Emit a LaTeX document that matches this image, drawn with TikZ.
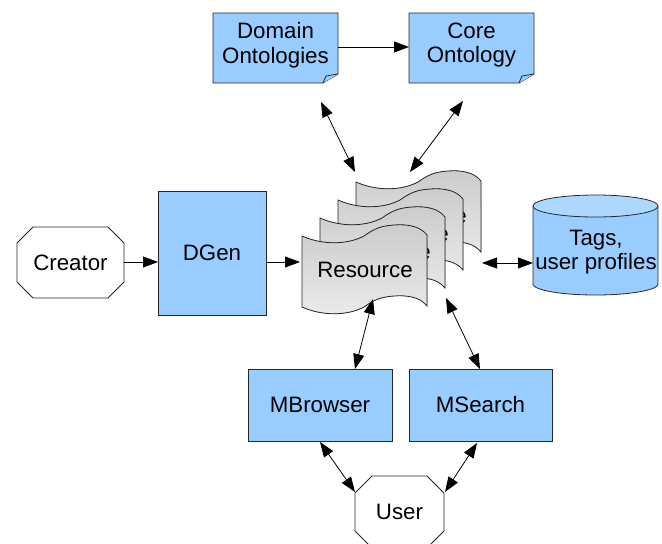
\documentclass[tikz,border=0pt]{standalone}
\usepackage{fontspec}
\setmainfont{Liberation Sans}
\usetikzlibrary{arrows.meta,calc}
\definecolor{boxblue}{RGB}{153,204,255}
\definecolor{topblue}{RGB}{172,216,255}
\definecolor{edge}{RGB}{40,40,40}
\tikzset{
  lbl/.style={inner sep=0pt, align=center, font=\fontsize{22.3}{24.5}\selectfont},
  shapeline/.style={draw=edge, line width=0.8pt},
  bluefill/.style={shapeline, fill=boxblue},
  pagefill/.style={shapeline, top color=gray!40, bottom color=gray!16},
  whitefill/.style={shapeline, fill=white},
  one/.style={-{Triangle[length=15pt,width=11pt]}, line width=0.8pt, black},
  bi/.style={{Triangle[length=15pt,width=11pt]}-{Triangle[length=15pt,width=11pt]}, line width=0.8pt, black},
}
\newcommand\octpath[5]{% x1 y1 x2 y2 cut
  \filldraw[whitefill] ({#1+#5},#2) -- ({#3-#5},#2) -- (#3,{#2+#5}) -- (#3,{#4-#5})
    -- ({#3-#5},#4) -- ({#1+#5},#4) -- (#1,{#4-#5}) -- (#1,{#2+#5}) -- cycle;}
\newcommand\respage[3]{% x y name
  \begin{scope}[shift={(#1,#2)}]
  \filldraw[pagefill] (0,0) .. controls (20,9) and (45,9) .. (62,0)
    .. controls (72,-7) and (78,-10) .. (92,-11)
    .. controls (105,-12) and (118,-10) .. (125,-1) -- (125,70)
    .. controls (118,61) and (105,59) .. (92,60)
    .. controls (78,61) and (72,64) .. (62,71)
    .. controls (45,80) and (20,80) .. (0,71) -- cycle;
  \node[lbl] (#3) at (63,34) {Resource};
  \end{scope}}
\begin{document}
\begin{tikzpicture}[x=1pt,y=-1pt]
\useasboundingbox (0,0) rectangle (662,544);

% Domain Ontologies (note)
\filldraw[bluefill] (213,13) -- (338,13) -- (338,74) -- (323,83) -- (213,83) -- cycle;
\filldraw[bluefill] (323,83) -- (326,76) -- (338,74);
\node[lbl] (dom) at (275.5,45) {Domain\\Ontologies};

% Core Ontology (note)
\filldraw[bluefill] (409,13) -- (534,13) -- (534,74) -- (519,83) -- (409,83) -- cycle;
\filldraw[bluefill] (519,83) -- (522,76) -- (534,74);
\node[lbl] (core) at (471.5,45) {Core\\Ontology};

% Creator
\octpath{17}{227}{124}{298}{16}
\node[lbl] (creator) at (70.5,262.5) {Creator};

% DGen
\filldraw[bluefill] (158,191) rectangle (266,315);
\node[lbl] (dgen) at (212,253) {DGen};

% Resource stack
\respage{356}{182}{res4}
\respage{338}{200}{res3}
\respage{320}{218}{res2}
\respage{302}{236}{res1}

% Tags cylinder
\filldraw[bluefill] (533,206) -- (533,284) arc[start angle=180, end angle=360, x radius=62.5, y radius=-11] -- (658,206);
\filldraw[shapeline, fill=topblue] (595.5,206) ellipse[x radius=62.5, y radius=11];
\node[lbl] (tags) at (596,252) {Tags,\\user profiles};

% MBrowser, MSearch
\filldraw[bluefill] (248,369) rectangle (392,441);
\node[lbl] (mbrowser) at (320,405) {MBrowser};
\filldraw[bluefill] (409,369) rectangle (552,441);
\node[lbl] (msearch) at (480.5,405) {MSearch};

% User
\octpath{355}{476}{444}{548}{17}
\node[lbl] (user) at (399.5,512) {User};

% connector end points
\coordinate (domB) at (321,102);
\coordinate (stTL) at (355,172);
\coordinate (coreB) at (463,101);
\coordinate (stTR) at (410,172);
\coordinate (creR) at (124,262);
\coordinate (dgenL) at (158,262);
\coordinate (dgenR) at (266,262);
\coordinate (resL) at (300,262);
\coordinate (stR) at (482,263);
\coordinate (tagsL) at (533,263);
\coordinate (resB) at (373,299);
\coordinate (mbT) at (355,369);
\coordinate (stBR) at (446,298);
\coordinate (msT) at (480,369);
\coordinate (mbB) at (320,442);
\coordinate (usL) at (355,492);
\coordinate (msB) at (477,443);
\coordinate (usR) at (445,492);
\coordinate (domR) at (338,47);
\coordinate (coreL) at (409,47);

% connectors
\draw[one] (domR) -- (coreL);
\draw[bi] (domB) -- (stTL);
\draw[bi] (coreB) -- (stTR);
\draw[one] (creR) -- (dgenL);
\draw[one] (dgenR) -- (resL);
\draw[bi] (stR) -- (tagsL);
\draw[bi] (resB) -- (mbT);
\draw[bi] (stBR) -- (msT);
\draw[bi] (mbB) -- (usL);
\draw[bi] (msB) -- (usR);
\end{tikzpicture}
\end{document}
